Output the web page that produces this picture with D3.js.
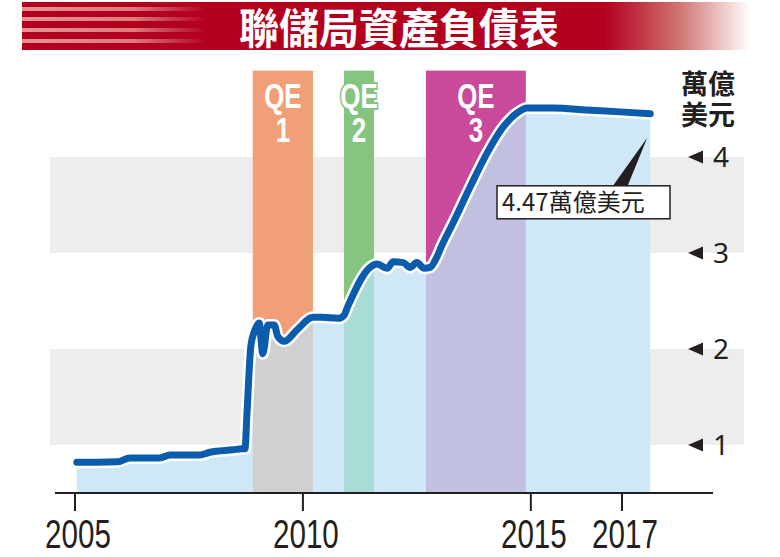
<!DOCTYPE html>
<html>
<head>
<meta charset="utf-8">
<script src="https://cdn.jsdelivr.net/npm/d3@7"></script>
<style>
body { margin: 0; background: #fff; }
svg { display: block; }
</style>
</head>
<body>
<div id="chart"></div>
<script>
var width = 780,
    height = 557;

// Fed balance sheet, trillions of USD
var years = [2005.04, 2005.5, 2005.94, 2006.2, 2006.86, 2007.08, 2007.74, 2007.96, 2008.47, 2008.66,
    2008.73, 2008.77, 2008.86, 2008.95, 2009.04, 2009.12, 2009.23, 2009.37, 2009.45, 2009.59,
    2009.87, 2010.22, 2010.42, 2010.77, 2010.9, 2010.99, 2011.47, 2011.63, 2011.85, 2011.98,
    2012.2, 2012.35, 2012.5, 2012.66, 2012.79, 2012.92, 2013.05, 2013.29, 2013.67, 2014.04,
    2014.39, 2014.7, 2014.92, 2015.49, 2016.23, 2016.96, 2017.62];
var assets = [0.82, 0.82, 0.825, 0.865, 0.865, 0.895, 0.895, 0.925, 0.95, 0.96,
    0.96, 1.3, 2.04, 2.2, 2.27, 1.95, 2.25, 2.25, 2.13, 2.08,
    2.2, 2.33, 2.33, 2.32, 2.35, 2.45, 2.85, 2.885, 2.84, 2.91,
    2.9, 2.85, 2.9, 2.84, 2.85, 2.94, 3.08, 3.31, 3.69, 4.04,
    4.31, 4.46, 4.51, 4.51, 4.49, 4.47, 4.45];

var qeLabels = ['1', '2', '3'];
var qeStart = [2008.9, 2010.9, 2012.7];
var qeEnd = [2010.22, 2011.56, 2014.89];

var xTickYears = [2005, 2010, 2015, 2017];
var yTickValues = [1, 2, 3, 4];
var yBands = [[3, 4], [1, 2]];

var title = '聯儲局資產負債表';
var unitLines = ['萬億', '美元'];
var annotationText = '4.47萬億美元';

// styles
var qeTopColor = ['#f19f78', '#86c57f', '#c9499a'];
var qeUnderColor = ['#d0d0d0', '#a9dcd5', '#c2c0e0'];
var ink = '#231f20';

var x = d3.scaleLinear().domain([2005, 2017]).range([75, 622]);
var y = d3.scaleLinear().domain([0.5, 4]).range([493, 157]);

var data = years.map(function(yr, i) { return {year: yr, value: assets[i]}; });

var svg = d3.select('#chart').append('svg')
    .attr('width', width)
    .attr('height', height);

var defs = svg.append('defs');

var titleGrad = defs.append('linearGradient').attr('id', 'titleGrad');
titleGrad.append('stop').attr('offset', '0').attr('stop-color', '#b4001f');
titleGrad.append('stop').attr('offset', '0.8').attr('stop-color', '#b4001f');
titleGrad.append('stop').attr('offset', '0.9').attr('stop-color', '#cf6f6f');
titleGrad.append('stop').attr('offset', '1').attr('stop-color', '#ffffff');

var stripeGrad = defs.append('linearGradient').attr('id', 'stripeGrad');
stripeGrad.append('stop').attr('offset', '0').attr('stop-color', '#eab0a8').attr('stop-opacity', 0.85);
stripeGrad.append('stop').attr('offset', '0.6').attr('stop-color', '#e49c94').attr('stop-opacity', 0.8);
stripeGrad.append('stop').attr('offset', '1').attr('stop-color', '#e49c94').attr('stop-opacity', 0);

// title bar
svg.append('rect')
    .attr('x', 22).attr('y', 2)
    .attr('width', 728).attr('height', 48)
    .attr('fill', 'url(#titleGrad)');

svg.selectAll('.stripe')
    .data([7, 17, 28, 39])
    .enter()
    .append('rect')
    .attr('class', 'stripe')
    .attr('x', 22).attr('y', function(d) { return d; })
    .attr('width', 185).attr('height', 4)
    .attr('fill', 'url(#stripeGrad)');

svg.append('text')
    .attr('transform', 'translate(399,44) scale(1,1.06)')
    .attr('text-anchor', 'middle')
    .attr('fill', '#fff')
    .attr('font-family', '"Noto Sans CJK TC", "Noto Sans CJK SC", sans-serif')
    .attr('font-weight', 'bold')
    .attr('font-size', 40)
    .text(title);

// gray bands
svg.selectAll('.band')
    .data(yBands)
    .enter()
    .append('rect')
    .attr('class', 'band')
    .attr('x', 50)
    .attr('width', 694)
    .attr('y', function(d) { return y(d[1]); })
    .attr('height', function(d) { return y(d[0]) - y(d[1]); })
    .attr('fill', '#ededed');

// QE periods, above the curve
var qeTop = y(4.9);
svg.selectAll('.qe')
    .data(qeLabels)
    .enter()
    .append('rect')
    .attr('class', 'qe')
    .attr('x', function(d, i) { return x(qeStart[i]); })
    .attr('width', function(d, i) { return x(qeEnd[i]) - x(qeStart[i]); })
    .attr('y', qeTop)
    .attr('height', y(0.5) - qeTop)
    .attr('fill', function(d, i) { return qeTopColor[i]; });

var curve = d3.curveMonotoneX;

var area = d3.area()
    .x(function(d) { return x(d.year); })
    .y0(y(0.5))
    .y1(function(d) { return y(d.value); })
    .curve(curve);

var line = d3.line()
    .x(function(d) { return x(d.year); })
    .y(function(d) { return y(d.value); })
    .curve(curve);

defs.append('clipPath').attr('id', 'underClip')
    .append('path').attr('d', area(data));

svg.append('path')
    .attr('d', area(data))
    .attr('fill', '#cfe8f7');

// QE periods, under the curve
svg.append('g')
    .attr('clip-path', 'url(#underClip)')
    .selectAll('rect')
    .data(qeLabels)
    .enter()
    .append('rect')
    .attr('x', function(d, i) { return x(qeStart[i]); })
    .attr('width', function(d, i) { return x(qeEnd[i]) - x(qeStart[i]); })
    .attr('y', qeTop)
    .attr('height', y(0.5) - qeTop)
    .attr('fill', function(d, i) { return qeUnderColor[i]; });

svg.append('path')
    .attr('d', line(data))
    .attr('fill', 'none')
    .attr('stroke', '#fff')
    .attr('stroke-width', 12)
    .attr('stroke-linejoin', 'round')
    .attr('stroke-linecap', 'round');

svg.append('path')
    .attr('d', line(data))
    .attr('fill', 'none')
    .attr('stroke', '#0b5cad')
    .attr('stroke-width', 7)
    .attr('stroke-linejoin', 'round')
    .attr('stroke-linecap', 'round');

// QE labels
var qeText = svg.selectAll('.qe-label')
    .data(qeLabels)
    .enter()
    .append('g')
    .attr('class', 'qe-label');

[['QE', 108], [null, 142]].forEach(function(row) {
    qeText.append('text')
        .attr('transform', function(d, i) {
            return 'translate(' + (x(qeStart[i]) + x(qeEnd[i])) / 2 + ',' + row[1] + ') scale(0.74,1)';
        })
        .attr('text-anchor', 'middle')
        .attr('font-family', '"Liberation Sans", Arial, sans-serif')
        .attr('font-weight', 'bold')
        .attr('font-size', 35)
        .attr('fill', '#fff')
        .attr('stroke', function(d, i) { return qeTopColor[i]; })
        .attr('stroke-width', 4)
        .attr('paint-order', 'stroke')
        .text(function(d) { return row[0] || d; });
});

// annotation
var last = data[data.length - 1];
var tipX = x(last.year) - 3,
    tipY = y(last.value) + 24;
svg.append('path')
    .attr('d', 'M' + (tipX - 35) + ',' + (tipY + 49) + 'L' + (tipX - 20) + ',' + (tipY + 49) + 'L' + tipX + ',' + tipY + 'Z')
    .attr('fill', ink);

svg.append('rect')
    .attr('x', 497).attr('y', tipY + 48)
    .attr('width', 173).attr('height', 33)
    .attr('fill', '#fff')
    .attr('stroke', ink)
    .attr('stroke-width', 1.5);

svg.append('text')
    .attr('x', 502).attr('y', tipY + 73)
    .attr('fill', ink)
    .attr('font-family', '"Noto Sans CJK TC", "Noto Sans", sans-serif')
    .attr('font-size', 24)
    .text(annotationText);

// right-side value labels
svg.selectAll('.ytri')
    .data(yTickValues)
    .enter()
    .append('path')
    .attr('d', function(d) {
        return 'M688,' + y(d) + 'L703,' + (y(d) - 6.5) + 'L703,' + (y(d) + 6.5) + 'Z';
    })
    .attr('fill', ink);

svg.selectAll('.ylab')
    .data(yTickValues)
    .enter()
    .append('text')
    .attr('x', 713)
    .attr('y', function(d) { return y(d) + 10; })
    .attr('fill', ink)
    .attr('font-family', '"Noto Sans", sans-serif')
    .attr('font-size', 28)
    .text(function(d) { return d; });

svg.selectAll('.unit')
    .data(unitLines)
    .enter()
    .append('text')
    .attr('x', 708)
    .attr('y', function(d, i) { return 94 + i * 31; })
    .attr('text-anchor', 'middle')
    .attr('fill', ink)
    .attr('font-family', '"Noto Sans CJK TC", sans-serif')
    .attr('font-weight', 'bold')
    .attr('font-size', 27)
    .text(function(d) { return d; });

// x axis
svg.append('line')
    .attr('x1', 55).attr('x2', 713)
    .attr('y1', y(0.5)).attr('y2', y(0.5))
    .attr('stroke', ink)
    .attr('stroke-width', 2);

svg.selectAll('.xtick')
    .data(xTickYears)
    .enter()
    .append('line')
    .attr('x1', function(d) { return x(d); })
    .attr('x2', function(d) { return x(d); })
    .attr('y1', y(0.5))
    .attr('y2', y(0.5) + 18)
    .attr('stroke', ink)
    .attr('stroke-width', 2);

svg.selectAll('.xlab')
    .data(xTickYears)
    .enter()
    .append('text')
    .attr('transform', function(d) { return 'translate(' + (x(d) + 3) + ',548) scale(0.74,1)'; })
    .attr('text-anchor', 'middle')
    .attr('fill', ink)
    .attr('font-family', '"Liberation Sans", Arial, sans-serif')
    .attr('font-size', 40)
    .text(function(d) { return d; });
</script>
</body>
</html>
